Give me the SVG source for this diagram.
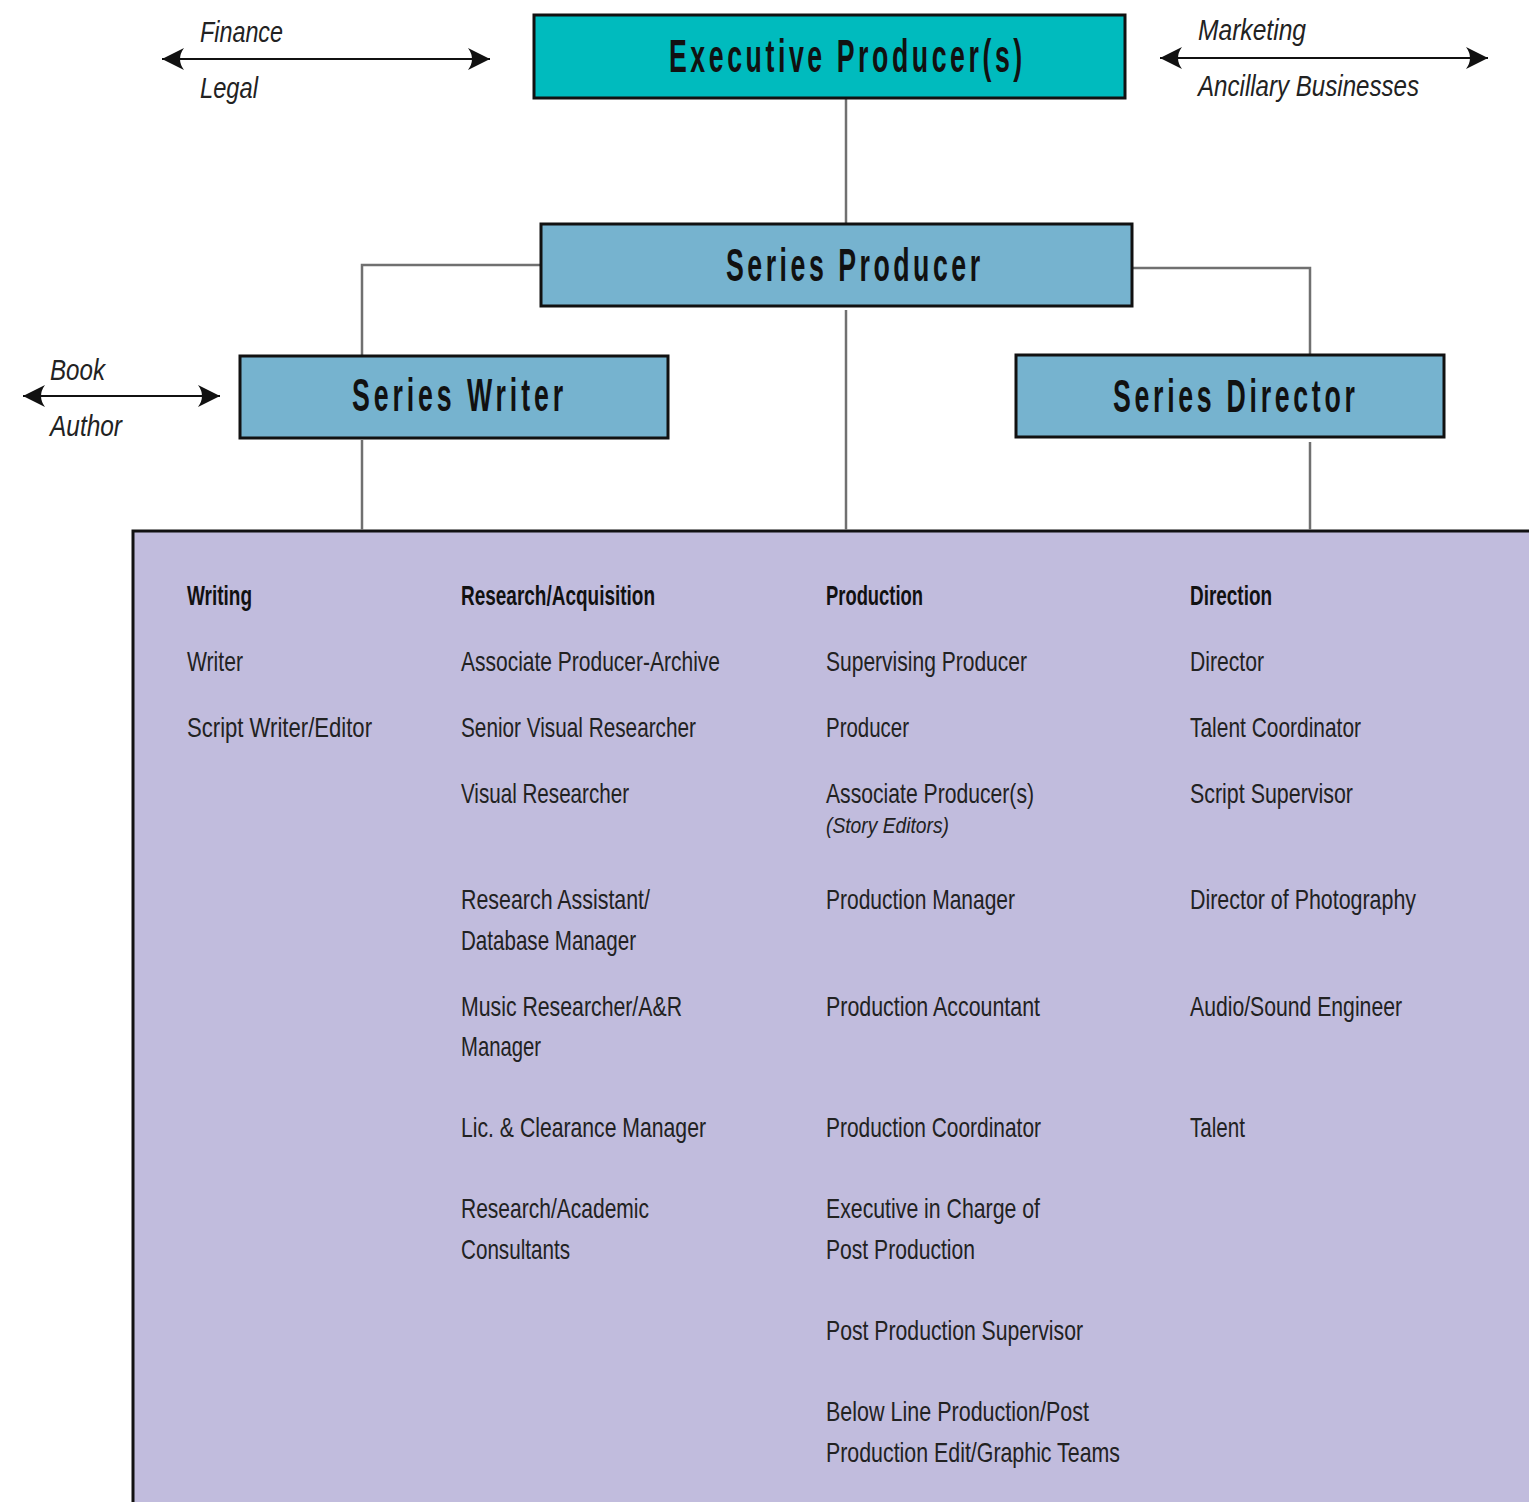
<svg xmlns="http://www.w3.org/2000/svg" width="1529" height="1502" viewBox="0 0 1529 1502">
<style>
.box{stroke:#111;stroke-width:3}
.exec{fill:#00BBBE}
.blue{fill:#76B3CF}
.title{font-family:"Liberation Sans",Arial,sans-serif;font-weight:bold;font-size:46px;fill:#111}
.lbl{font-family:"Liberation Sans",Arial,sans-serif;font-style:italic;font-size:29px;fill:#222}
.hd{font-family:"Liberation Sans",Arial,sans-serif;font-weight:bold;font-size:28px;fill:#111}
.it{font-family:"Liberation Sans",Arial,sans-serif;font-size:28px;fill:#222}
.sm{font-family:"Liberation Sans",Arial,sans-serif;font-style:italic;font-size:22px;fill:#222}
.conn{fill:none;stroke:#707070;stroke-width:2.5}
.arr{fill:none;stroke:#111;stroke-width:2.2}
</style>
<defs>
<marker id="ah" viewBox="-24 -12 26 24" refX="0" refY="0" markerWidth="26" markerHeight="24" markerUnits="userSpaceOnUse" orient="auto-start-reverse">
<path d="M0,0 L-22,-11 Q-14,0 -22,11 Z" fill="#111"/>
</marker>
</defs>
<rect id="bg" width="1529" height="1502" fill="#fff"/>

<g id="department-panel">
<rect x="133" y="531" width="1410" height="1000" fill="#C1BCDD" stroke="#111" stroke-width="3"/>
<text class="hd" x="187" y="605" textLength="65" lengthAdjust="spacingAndGlyphs">Writing</text>
<text class="hd" x="461" y="605" textLength="194" lengthAdjust="spacingAndGlyphs">Research/Acquisition</text>
<text class="hd" x="826" y="605" textLength="97" lengthAdjust="spacingAndGlyphs">Production</text>
<text class="hd" x="1190" y="605" textLength="82" lengthAdjust="spacingAndGlyphs">Direction</text>

<text class="it" x="187" y="671" textLength="56" lengthAdjust="spacingAndGlyphs">Writer</text>
<text class="it" x="187" y="737" textLength="185" lengthAdjust="spacingAndGlyphs">Script Writer/Editor</text>

<text class="it" x="461" y="671" textLength="259" lengthAdjust="spacingAndGlyphs">Associate Producer-Archive</text>
<text class="it" x="461" y="737" textLength="235" lengthAdjust="spacingAndGlyphs">Senior Visual Researcher</text>
<text class="it" x="461" y="803" textLength="168" lengthAdjust="spacingAndGlyphs">Visual Researcher</text>
<text class="it" x="461" y="909" textLength="189" lengthAdjust="spacingAndGlyphs">Research Assistant/</text>
<text class="it" x="461" y="950" textLength="175" lengthAdjust="spacingAndGlyphs">Database Manager</text>
<text class="it" x="461" y="1016" textLength="221" lengthAdjust="spacingAndGlyphs">Music Researcher/A&amp;R</text>
<text class="it" x="461" y="1056" textLength="80" lengthAdjust="spacingAndGlyphs">Manager</text>
<text class="it" x="461" y="1137" textLength="245" lengthAdjust="spacingAndGlyphs">Lic. &amp; Clearance Manager</text>
<text class="it" x="461" y="1218" textLength="188" lengthAdjust="spacingAndGlyphs">Research/Academic</text>
<text class="it" x="461" y="1259" textLength="109" lengthAdjust="spacingAndGlyphs">Consultants</text>

<text class="it" x="826" y="671" textLength="201" lengthAdjust="spacingAndGlyphs">Supervising Producer</text>
<text class="it" x="826" y="737" textLength="83" lengthAdjust="spacingAndGlyphs">Producer</text>
<text class="it" x="826" y="803" textLength="208" lengthAdjust="spacingAndGlyphs">Associate Producer(s)</text>
<text class="sm" x="826" y="833" textLength="123" lengthAdjust="spacingAndGlyphs">(Story Editors)</text>
<text class="it" x="826" y="909" textLength="189" lengthAdjust="spacingAndGlyphs">Production Manager</text>
<text class="it" x="826" y="1016" textLength="214" lengthAdjust="spacingAndGlyphs">Production Accountant</text>
<text class="it" x="826" y="1137" textLength="215" lengthAdjust="spacingAndGlyphs">Production Coordinator</text>
<text class="it" x="826" y="1218" textLength="214" lengthAdjust="spacingAndGlyphs">Executive in Charge of</text>
<text class="it" x="826" y="1259" textLength="149" lengthAdjust="spacingAndGlyphs">Post Production</text>
<text class="it" x="826" y="1340" textLength="257" lengthAdjust="spacingAndGlyphs">Post Production Supervisor</text>
<text class="it" x="826" y="1421" textLength="263" lengthAdjust="spacingAndGlyphs">Below Line Production/Post</text>
<text class="it" x="826" y="1462" textLength="294" lengthAdjust="spacingAndGlyphs">Production Edit/Graphic Teams</text>

<text class="it" x="1190" y="671" textLength="74" lengthAdjust="spacingAndGlyphs">Director</text>
<text class="it" x="1190" y="737" textLength="171" lengthAdjust="spacingAndGlyphs">Talent Coordinator</text>
<text class="it" x="1190" y="803" textLength="163" lengthAdjust="spacingAndGlyphs">Script Supervisor</text>
<text class="it" x="1190" y="909" textLength="226" lengthAdjust="spacingAndGlyphs">Director of Photography</text>
<text class="it" x="1190" y="1016" textLength="212" lengthAdjust="spacingAndGlyphs">Audio/Sound Engineer</text>
<text class="it" x="1190" y="1137" textLength="55" lengthAdjust="spacingAndGlyphs">Talent</text>
</g>

<g id="connectors">
<path class="conn" d="M846,99 V223"/>
<path class="conn" d="M540,265 H362 V355"/>
<path class="conn" d="M1133,268 H1310 V354"/>
<path class="conn" d="M846,310 V530"/>
<path class="conn" d="M362,440 V530"/>
<path class="conn" d="M1310,442 V530"/>
<path class="arr" d="M162,59 H490" marker-start="url(#ah)" marker-end="url(#ah)"/>
<path class="arr" d="M1160,58 H1488" marker-start="url(#ah)" marker-end="url(#ah)"/>
<path class="arr" d="M23,396 H220" marker-start="url(#ah)" marker-end="url(#ah)"/>
</g>

<g id="side-labels">
<text class="lbl" x="200" y="42" textLength="83" lengthAdjust="spacingAndGlyphs">Finance</text>
<text class="lbl" x="200" y="98" textLength="58" lengthAdjust="spacingAndGlyphs">Legal</text>
<text class="lbl" x="1198" y="40" textLength="108" lengthAdjust="spacingAndGlyphs">Marketing</text>
<text class="lbl" x="1198" y="96" textLength="221" lengthAdjust="spacingAndGlyphs">Ancillary Businesses</text>
<text class="lbl" x="50" y="380" textLength="55" lengthAdjust="spacingAndGlyphs">Book</text>
<text class="lbl" x="50" y="436" textLength="72" lengthAdjust="spacingAndGlyphs">Author</text>
</g>

<g id="executive-producer">
<rect class="box exec" x="534" y="15" width="591" height="83"/>
<text class="title" transform="translate(669,72) scale(0.58,1)" x="0" y="0" textLength="609" lengthAdjust="spacing">Executive Producer(s)</text>
</g>
<g id="series-producer">
<rect class="box blue" x="541" y="224" width="591" height="82"/>
<text class="title" transform="translate(726,281) scale(0.58,1)" x="0" y="0" textLength="438" lengthAdjust="spacing">Series Producer</text>
</g>
<g id="series-writer">
<rect class="box blue" x="240" y="356" width="428" height="82"/>
<text class="title" transform="translate(352,411) scale(0.58,1)" x="0" y="0" textLength="364" lengthAdjust="spacing">Series Writer</text>
</g>
<g id="series-director">
<rect class="box blue" x="1016" y="355" width="428" height="82"/>
<text class="title" transform="translate(1113,412) scale(0.58,1)" x="0" y="0" textLength="417" lengthAdjust="spacing">Series Director</text>
</g>
</svg>
